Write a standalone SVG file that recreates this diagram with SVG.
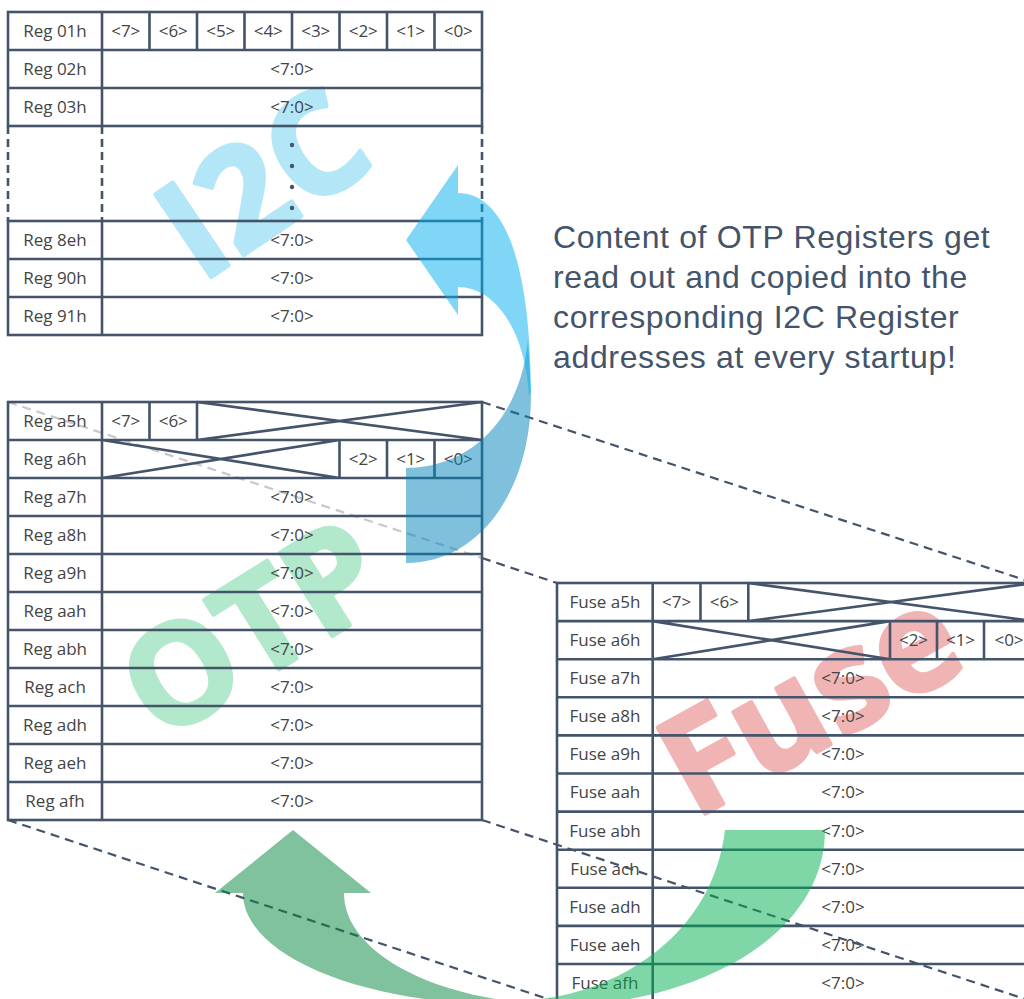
<svg xmlns="http://www.w3.org/2000/svg" width="1024" height="999" viewBox="0 0 1024 999">
<style>
.ln{stroke:#44546a;stroke-width:2.6;fill:none}
.dl{stroke:#44546a;stroke-width:2.6;fill:none;stroke-dasharray:8 5}
.cn{stroke:#44546a;stroke-width:2.2;fill:none;stroke-dasharray:9 6}
.cg{stroke:#c8c8c8;stroke-width:2.2;fill:none;stroke-dasharray:9 6}
.t{font-family:"Open Sans","Noto Sans",sans-serif;font-size:17px;fill:#444;text-anchor:middle}
.wm{font-family:"Open Sans","Noto Sans",sans-serif;font-weight:700;text-anchor:middle;stroke-width:4;stroke-linejoin:round}
.note{font-family:"Liberation Sans",Arial,sans-serif;font-size:32px;fill:#44546a;letter-spacing:0.65px}
</style>
<rect width="1024" height="999" fill="#fff"/>
<g id="watermarks">
<text class="wm" font-size="140" fill="#b3e7f8" stroke="#b3e7f8" transform="translate(290,224) rotate(-34)">I2C</text>
<text class="wm" font-size="138" fill="#b2e8cb" stroke="#b2e8cb" transform="translate(278,670) rotate(-32)">OTP</text>
<text class="wm" font-size="138" fill="#f1b4b4" stroke="#f1b4b4" transform="translate(833,743) rotate(-29)">Fuse</text>
</g>
<g id="connectors-back">
<path class="cg" d="M8,402 L482,558"/>
</g>
<g id="i2c-table">
<rect class="ln" x="8" y="12" width="474" height="114"/>
<rect class="ln" x="8" y="221" width="474" height="114"/>
<path class="ln" d="M8,50H482M8,88H482M8,259H482M8,297H482M102,12V126M102,221V335M149.5,12V50M197,12V50M244.5,12V50M292,12V50M339.5,12V50M387,12V50M434.5,12V50"/>
<path class="dl" d="M8,126V221M102,126V221M482,126V221"/>
<g fill="#44546a"><circle cx="292" cy="145" r="2.2"/><circle cx="292" cy="166" r="2.2"/><circle cx="292" cy="187" r="2.2"/><circle cx="292" cy="208" r="2.2"/></g>
<text class="t" x="55" y="37">Reg 01h</text>
<text class="t" x="125.75" y="37">&lt;7&gt;</text>
<text class="t" x="173.25" y="37">&lt;6&gt;</text>
<text class="t" x="220.75" y="37">&lt;5&gt;</text>
<text class="t" x="268.25" y="37">&lt;4&gt;</text>
<text class="t" x="315.75" y="37">&lt;3&gt;</text>
<text class="t" x="363.25" y="37">&lt;2&gt;</text>
<text class="t" x="410.75" y="37">&lt;1&gt;</text>
<text class="t" x="458.25" y="37">&lt;0&gt;</text>
<text class="t" x="55" y="75">Reg 02h</text><text class="t" x="292" y="75">&lt;7:0&gt;</text>
<text class="t" x="55" y="113">Reg 03h</text><text class="t" x="292" y="113">&lt;7:0&gt;</text>
<text class="t" x="55" y="246">Reg 8eh</text><text class="t" x="292" y="246">&lt;7:0&gt;</text>
<text class="t" x="55" y="284">Reg 90h</text><text class="t" x="292" y="284">&lt;7:0&gt;</text>
<text class="t" x="55" y="322">Reg 91h</text><text class="t" x="292" y="322">&lt;7:0&gt;</text>
</g>
<g id="otp-table">
<rect class="ln" x="8" y="402" width="474" height="418"/>
<path class="ln" d="M8,440H482M8,478H482M8,516H482M8,554H482M8,592H482M8,630H482M8,668H482M8,706H482M8,744H482M8,782H482M102,402V820M149.5,402V440M197,402V440M197,402L482,440M197,440L482,402M339.5,440V478M387,440V478M434.5,440V478M102,440L339.5,478M102,478L339.5,440"/>
<text class="t" x="55" y="427">Reg a5h</text>
<text class="t" x="125.75" y="427">&lt;7&gt;</text>
<text class="t" x="173.25" y="427">&lt;6&gt;</text>
<text class="t" x="55" y="465">Reg a6h</text>
<text class="t" x="363.25" y="465">&lt;2&gt;</text>
<text class="t" x="410.75" y="465">&lt;1&gt;</text>
<text class="t" x="458.25" y="465">&lt;0&gt;</text>
<text class="t" x="55" y="503">Reg a7h</text><text class="t" x="292" y="503">&lt;7:0&gt;</text>
<text class="t" x="55" y="541">Reg a8h</text><text class="t" x="292" y="541">&lt;7:0&gt;</text>
<text class="t" x="55" y="579">Reg a9h</text><text class="t" x="292" y="579">&lt;7:0&gt;</text>
<text class="t" x="55" y="617">Reg aah</text><text class="t" x="292" y="617">&lt;7:0&gt;</text>
<text class="t" x="55" y="655">Reg abh</text><text class="t" x="292" y="655">&lt;7:0&gt;</text>
<text class="t" x="55" y="693">Reg ach</text><text class="t" x="292" y="693">&lt;7:0&gt;</text>
<text class="t" x="55" y="731">Reg adh</text><text class="t" x="292" y="731">&lt;7:0&gt;</text>
<text class="t" x="55" y="769">Reg aeh</text><text class="t" x="292" y="769">&lt;7:0&gt;</text>
<text class="t" x="55" y="807">Reg afh</text><text class="t" x="292" y="807">&lt;7:0&gt;</text>
</g>
<g id="fuse-table">
<rect class="ln" x="557" y="583" width="477" height="419"/>
<path class="ln" d="M557,621.1H1034M557,659.2H1034M557,697.3H1034M557,735.4H1034M557,773.5H1034M557,811.6H1034M557,849.7H1034M557,887.8H1034M557,925.9H1034M557,964H1034M652.7,583V1002M700.5,583V621.1M748.3,583V621.1M748.3,583L1034,621.1M748.3,621.1L1034,583M890,621.1V659.2M937,621.1V659.2M984,621.1V659.2M652.7,621.1L890,659.2M652.7,659.2L890,621.1"/>
<text class="t" x="605" y="608">Fuse a5h</text>
<text class="t" x="676.6" y="608">&lt;7&gt;</text>
<text class="t" x="724.4" y="608">&lt;6&gt;</text>
<text class="t" x="605" y="646">Fuse a6h</text>
<text class="t" x="913.5" y="646">&lt;2&gt;</text>
<text class="t" x="960.5" y="646">&lt;1&gt;</text>
<text class="t" x="1009" y="646">&lt;0&gt;</text>
<text class="t" x="605" y="684">Fuse a7h</text><text class="t" x="843" y="684">&lt;7:0&gt;</text>
<text class="t" x="605" y="722">Fuse a8h</text><text class="t" x="843" y="722">&lt;7:0&gt;</text>
<text class="t" x="605" y="760">Fuse a9h</text><text class="t" x="843" y="760">&lt;7:0&gt;</text>
<text class="t" x="605" y="798">Fuse aah</text><text class="t" x="843" y="798">&lt;7:0&gt;</text>
<text class="t" x="605" y="837">Fuse abh</text><text class="t" x="843" y="837">&lt;7:0&gt;</text>
<text class="t" x="605" y="875">Fuse ach</text><text class="t" x="843" y="875">&lt;7:0&gt;</text>
<text class="t" x="605" y="913">Fuse adh</text><text class="t" x="843" y="913">&lt;7:0&gt;</text>
<text class="t" x="605" y="951">Fuse aeh</text><text class="t" x="843" y="951">&lt;7:0&gt;</text>
<text class="t" x="605" y="989">Fuse afh</text><text class="t" x="843" y="989">&lt;7:0&gt;</text>
</g>
<g id="connectors">
<path class="cn" d="M482,558 L557,583"/>
<path class="cn" d="M482,402 L1034,583"/>
<path class="cn" d="M8,820 L557,1002"/>
<path class="cn" d="M482,820 L1034,1002"/>
<g id="arrow-otp-to-i2c" fill-opacity="0.5">
<path fill="#0082ba" d="M406,563 C480,563 531,490 531,395 L528,340 C520,420 470,468 406,468 Z"/>
<path fill="#00adef" d="M406,240 L458,165 L458,193 C500,193 530,250 531,392 L529,395 C525,330 495,287 458,287 L458,315 Z"/>
</g>
<g id="arrow-fuse-to-otp" fill-opacity="0.5">
<path fill="#00853c" d="M293,830 L371,893 L344,893 C344,955 440,1000 545,1004 C380,1012 243,960 243,893 L215,893 Z"/>
<path fill="#00b050" d="M725,830 L825,830 C825,930 710,1005 540,1008 L530,1000 C610,995 712,940 725,830 Z"/>
</g>
</g>
<g id="note">
<text class="note" x="553" y="248">Content of OTP Registers get</text>
<text class="note" x="553" y="288">read out and copied into the</text>
<text class="note" x="553" y="328">corresponding I2C Register</text>
<text class="note" x="553" y="368">addresses at every startup!</text>
</g>
</svg>
